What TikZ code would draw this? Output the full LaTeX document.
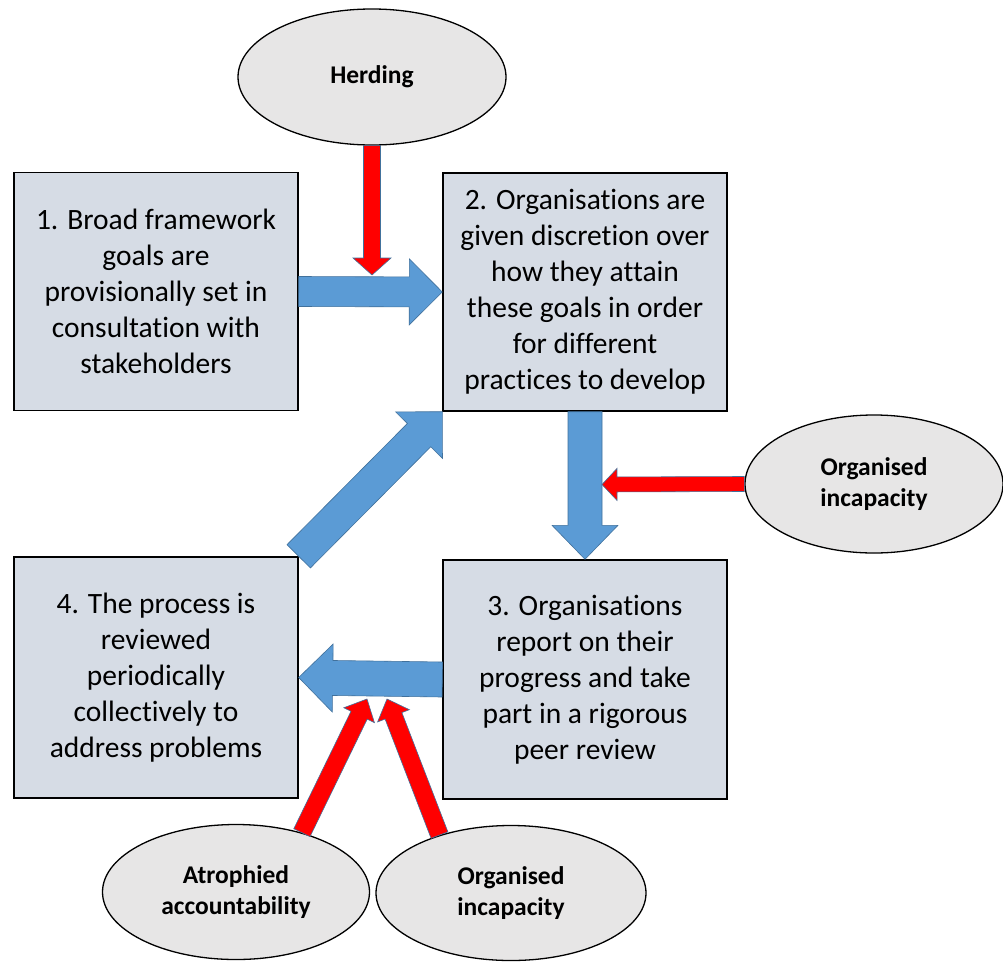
\documentclass[tikz,border=0pt]{standalone}
\usepackage{fontspec}
\setmainfont{Carlito}[Ligatures=NoCommon]
\usetikzlibrary{calc,shapes.geometric}
\definecolor{boxfill}{HTML}{D6DCE5}
\definecolor{ellfill}{HTML}{E7E6E6}
\definecolor{bluearr}{HTML}{5B9BD5}
\definecolor{arredge}{HTML}{41719C}
\newcommand{\fatarrow}[6]{%
  \path ($(#3)!#6!(#2)$) coordinate (fa-h);
  \filldraw[#1] ($(#2)!#4!90:(#3)$) -- ($(fa-h)!#4!90:(#3)$) -- ($(fa-h)!#5!90:(#3)$) -- (#3)
    -- ($(fa-h)!#5!-90:(#3)$) -- ($(fa-h)!#4!-90:(#3)$) -- ($(#2)!#4!-90:(#3)$) -- cycle;}
\tikzset{
  stagebox/.style={draw=black, line width=1.4pt, fill=boxfill, rectangle, inner sep=0pt,
    minimum width=284pt, minimum height=238pt, align=center,
    font=\fontsize{29.5}{36}\selectfont},
  factor/.style={draw=black, line width=1.3pt, fill=ellfill, ellipse, inner sep=0pt,
    align=center, font=\fontsize{25.5}{31}\selectfont\bfseries},
  bluefat/.style={fill=bluearr, draw=arredge, line width=0.6pt, line join=miter},
  redfat/.style={fill=red, draw=arredge, line width=0.6pt, line join=miter}
}
\begin{document}
\begin{tikzpicture}[x=1pt, y=-1pt]
\useasboundingbox[fill=white] (0,0) rectangle (1003,961);
% boxes
\node[stagebox] (b1) at (156,291.5) {1. Broad framework\\goals are\\provisionally set in\\consultation with\\stakeholders};
\node[stagebox] (b2) at (585,292) {2. Organisations are\\given discretion over\\how they attain\\these goals in order\\for different\\practices to develop};
\node[stagebox, minimum height=239pt] (b3) at (585,679.5) {3. Organisations\\report on their\\progress and take\\part in a rigorous\\peer review};
\node[stagebox, minimum height=241pt] (b4) at (156,677.5) {4. The process is\\reviewed\\periodically\\collectively to\\address problems};
% ellipses
\node[factor, minimum width=268pt, minimum height=136pt] (eh) at (372,77) {Herding};
\node[factor, minimum width=258pt, minimum height=138pt] (er) at (874,484) {Organised\\incapacity};
\node[factor, minimum width=267pt, minimum height=135pt] (ea) at (236,892) {Atrophied\\accountability};
\node[factor, minimum width=270pt, minimum height=135pt] (ei) at (511,893) {Organised\\incapacity};
% free ends
\coordinate (hend) at (372,275);
\coordinate (rend) at (602,484.5);
\coordinate (aend) at (367,699);
\coordinate (iend) at (387,699);
% blue arrows
\fatarrow{bluefat}{b1.east}{b2.west}{15pt}{33pt}{33pt}
\fatarrow{bluefat}{b2.south}{b3.north}{17pt}{33pt}{34pt}
\fatarrow{bluefat}{b3.west}{b4.east}{17.5pt}{34pt}{34pt}
\fatarrow{bluefat}{b4.north east}{b2.south west}{16.5pt}{33pt}{33pt}
% red arrows
\fatarrow{redfat}{eh.south}{hend}{8.5pt}{19pt}{17pt}
\fatarrow{redfat}{er.west}{rend}{7.5pt}{16pt}{15pt}
\fatarrow{redfat}{ea.42}{aend}{9pt}{17pt}{18pt}
\fatarrow{redfat}{ei.141}{iend}{9pt}{17pt}{18pt}
\end{tikzpicture}
\end{document}
